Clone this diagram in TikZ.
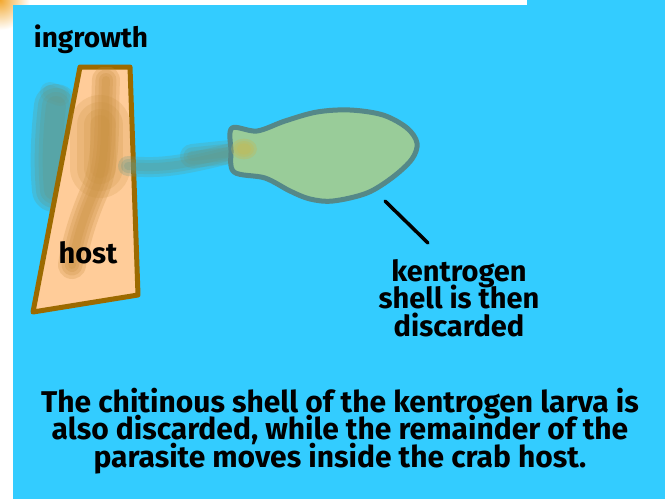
\documentclass[tikz,border=0pt]{standalone}
\usepackage{fontspec}
\setmainfont{Fira Sans}
\usetikzlibrary{positioning}
\usepackage{xcolor}

\definecolor{sea}{HTML}{33CCFF}
\definecolor{peach}{HTML}{FFCC99}
\definecolor{hostrim}{HTML}{9C6A00}
\definecolor{streak}{HTML}{C89040}
\definecolor{shellfill}{HTML}{99CC99}
\definecolor{shellrim}{HTML}{558888}
\definecolor{haze}{HTML}{669988}
\definecolor{yolk}{HTML}{C8B850}
\definecolor{glow}{HTML}{F2A830}

\newcommand\tightlines{\lineskiplimit=-30pt}
\tikzset{
  lbl/.style={font=\bfseries\fontsize{29}{27.5}\selectfont\tightlines,align=center,text=black,inner sep=0pt},
  soft/.style={line join=round,line cap=round}
}

% a smudge: the same stroke laid down several times, narrower each time
\newcommand\smudge[4]{%
  \foreach \w in {#2}
    \draw[soft,#1,line width=\w,opacity=#3] #4;
}

\begin{document}
\begin{tikzpicture}[x=1pt,y=-1pt]
\useasboundingbox (0,0) rectangle (665,499);
% page and corner glow
\fill[white] (0,0) rectangle (665,499);
\shade[inner color=glow,outer color=white] (0,0) circle (30);
\fill[sea] (13,5) rectangle (665,499);
\fill[sea] (527,0) rectangle (665,5);

% haze behind the host
\smudge{haze}{44,36,28,20}{0.28}{(56,106) .. controls (52,140) and (52,170) .. (54,190)}
\smudge{haze}{20,14}{0.2}{(50,92) -- (60,96)}

% host
\draw[hostrim,fill=peach,line width=5,line join=round] (80,67) -- (130,67) -- (138,295) -- (33,312) -- cycle;
\begin{scope}
  \clip (80,67) -- (130,67) -- (138,295) -- (33,312) -- cycle;
  \smudge{streak}{28,21,14,8}{0.25}{(106,80) .. controls (104,120) and (108,160) .. (95,190) .. controls (84,215) and (76,240) .. (72,265)}
  \smudge{streak}{60,46,32,20}{0.2}{(100,125) -- (100,168)}
\end{scope}

% trail from host to shell
\smudge{haze}{20,14,8}{0.25}{(128,166) .. controls (160,169) and (180,166) .. (232,153)}
\smudge{haze}{24,17,10}{0.25}{(192,156) -- (230,152)}

% kentrogen shell
\draw[shellrim,fill=shellfill,line width=5,line join=round]
  plot[smooth cycle,tension=0.55] coordinates {(232,128) (257,131) (285,121) (317,112) (350,110) (383,115) (407,128) (417,143) (412,159) (393,177) (367,193) (333,201) (310,199) (290,191) (265,178) (234,172) (231,150)};
\foreach \r in {13,10,7}
  \fill[yolk,opacity=0.3] (244,149) ellipse ({\r} and {0.8*\r});

% pointer
\coordinate (shelledge) at (385,201);
\coordinate (pointerend) at (428,243);
\draw[line width=3.5,line cap=round] (shelledge) -- (pointerend);

% labels
\node[lbl,font=\bfseries\fontsize{28}{27}\selectfont,anchor=base] (ingrowth) at (91,47) {ingrowth};
\node[lbl,anchor=base] (host) at (88,263) {host};
\node[lbl] (discard) at (459,298) {kentrogen\\shell is then\\discarded};
\node[lbl,font=\bfseries\fontsize{30}{27.5}\selectfont\tightlines] (caption) at (340,431) {The chitinous shell of the kentrogen larva is\\also discarded, while the remainder of the\\parasite moves inside the crab host.};
\end{tikzpicture}
\end{document}
